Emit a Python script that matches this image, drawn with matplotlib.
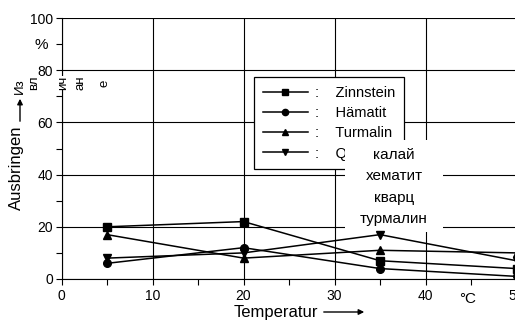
import matplotlib
matplotlib.use("Agg")
import matplotlib.pyplot as plt
from matplotlib.patches import Rectangle, FancyArrowPatch
from matplotlib.lines import Line2D

plt.rcParams['font.family'] = ['Liberation Sans', 'DejaVu Sans']

temps = [5, 20, 35, 50]
zinnstein = [20, 22, 7, 4]
haematit = [6, 12, 4, 1]
turmalin = [17, 8, 11, 10]
quarz = [8, 10, 17, 7]
series_labels = ["Zinnstein", "Hämatit", "Turmalin", "Q"]
ru_labels = ["калай", "хематит", "кварц", "турмалин"]
xticks = [0, 10, 20, 30, 40, 50]
yticks = [0, 20, 40, 60, 80, 100]

W, H = 515, 321
fig = plt.figure(figsize=(W / 100, H / 100), dpi=100)

def fx(px):
    return px / W

def fy(py):
    return 1 - py / H

ax = fig.add_axes([fx(61.5), fy(279), 455 / W, 261 / H])
ax.set_xlim(0, 50)
ax.set_ylim(0, 100)
ax.set_xticks(xticks)
ax.set_yticks(yticks)
ax.set_xticks([5, 15, 25, 35, 45], minor=True)
ax.set_yticks([10, 30, 50, 70, 90], minor=True)
ax.tick_params(axis='both', which='both', direction='out', length=4, width=0.8,
               labelsize=10, colors='black')
ax.tick_params(axis='x', pad=3)
ax.tick_params(axis='y', pad=2)
for s in ['top', 'right']:
    ax.spines[s].set_visible(False)
for s in ['left', 'bottom']:
    ax.spines[s].set_linewidth(0.8)
ax.grid(True, which='major', color='black', lw=0.8)
ax.set_axisbelow(True)

markers = ['s', 'o', '^', 'v']
for vals, m in zip([zinnstein, haematit, turmalin, quarz], markers):
    ax.plot(temps, vals, color='black', lw=1.1, marker=m, ms=5.5,
            clip_on=False, zorder=8)

leg_handles = [Line2D([0], [0], color='black', lw=1.1, marker=m, ms=4.5)
               for m in markers]
leg = ax.legend(leg_handles, [":    " + s for s in series_labels],
                loc='upper left', bbox_to_anchor=(fx(254), fy(77)),
                bbox_transform=fig.transFigure, fontsize=10.5, frameon=True,
                fancybox=False, edgecolor='black', framealpha=1,
                handlelength=3.1, handletextpad=0.45, labelspacing=0.43,
                borderpad=0.6, borderaxespad=0, numpoints=1)
leg.get_frame().set_linewidth(0.9)
leg.set_zorder(5)

# white box with Russian labels
rect = Rectangle((fx(345), fy(232)), fx(443) - fx(345), fy(140) - fy(232),
                 transform=fig.transFigure, facecolor='white', edgecolor='none',
                 zorder=6)
rect.set_clip_on(False)
ax.add_patch(rect)
for i, lab in enumerate(ru_labels):
    ax.text(fx(394), fy(155 + i * 21.3), lab, transform=fig.transFigure,
            ha='center', va='center', fontsize=11, zorder=7)

# percent sign
fig.text(fx(41), fy(45), "%", ha='center', va='center', fontsize=11)

# y label pieces
fig.text(fx(16), fy(168), "Ausbringen", rotation=90, ha='center', va='center',
         fontsize=12)
fig.text(fx(20), fy(86), "Из", rotation=90, ha='center', va='center', fontsize=9.5,
         bbox=dict(facecolor='white', edgecolor='none', pad=0.2))
for px, t in zip([34, 63, 81, 105], ["вл", "ич", "ан", "е"]):
    fig.text(fx(px), fy(83), t, rotation=90, ha='center', va='center',
             fontsize=9.5, bbox=dict(facecolor='white', edgecolor='none', pad=0.2),
             zorder=10)
fig.add_artist(FancyArrowPatch(
    (fx(20), fy(124)), (fx(20), fy(96)), transform=fig.transFigure,
    arrowstyle='-|>', mutation_scale=8, color='black', lw=1))

# x label
fig.text(fx(276), fy(312), "Temperatur", ha='center', va='center', fontsize=12)
fig.add_artist(FancyArrowPatch(
    (fx(321), fy(312)), (fx(367), fy(312)), transform=fig.transFigure,
    arrowstyle='-|>', mutation_scale=8, color='black', lw=1))
fig.text(fx(468), fy(299), "°C", ha='center', va='center', fontsize=11)

fig.savefig("out.png", dpi=100)
